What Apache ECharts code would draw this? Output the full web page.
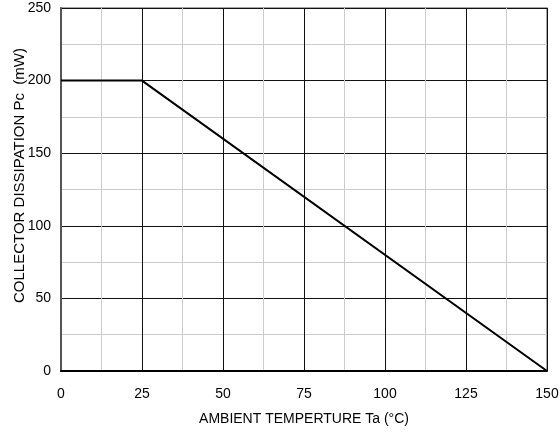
<!DOCTYPE html>
<html><head><meta charset="utf-8">
<script src="https://cdn.jsdelivr.net/npm/echarts@6/dist/echarts.min.js"></script>
<style>html,body{margin:0;padding:0;background:#fff}#c{width:560px;height:432px}</style>
</head><body><div id="c"></div>
<script>
const temps = [0, 25, 150];
const power = [200, 200, 0];
const xTicks = [0, 25, 50, 75, 100, 125, 150];
const yTicks = [0, 50, 100, 150, 200, 250];
const xName = 'AMBIENT TEMPERTURE Ta (\u00B0C)';
const yName = 'COLLECTOR DISSIPATION Pc  (mW)';

const font = 'Liberation Sans, Arial, sans-serif';
const chart = echarts.init(document.getElementById('c'), null, {renderer: 'canvas'});
chart.setOption({
  animation: false,
  backgroundColor: '#fff',
  grid: {left: 61, right: 13, top: 8, bottom: 61, containLabel: false, outerBoundsMode: 'none',
         show: true, borderColor: '#888', borderWidth: 1.5, backgroundColor: 'transparent'},
  xAxis: {
    type: 'value', min: xTicks[0], max: xTicks[xTicks.length - 1], interval: 25,
    name: xName, nameLocation: 'middle', nameGap: 41, nameMoveOverlap: false,
    nameTextStyle: {color: '#000', fontSize: 14, fontFamily: font},
    axisLine: {show: true, lineStyle: {color: '#000', width: 2}},
    axisTick: {show: false},
    axisLabel: {color: '#000', fontSize: 14, fontFamily: font, margin: 16},
    splitLine: {show: true, lineStyle: {color: '#111', width: 1}},
    minorTick: {show: false, splitNumber: 2},
    minorSplitLine: {show: true, lineStyle: {color: '#ccc', width: 1}}
  },
  yAxis: {
    type: 'value', min: yTicks[0], max: yTicks[yTicks.length - 1], interval: 50,
    name: yName, nameLocation: 'middle', nameGap: 34, nameMoveOverlap: false,
    nameTextStyle: {color: '#000', fontSize: 15, fontFamily: font, padding: [0, 0, 0, 28]},
    axisLine: {show: true, lineStyle: {color: '#555', width: 2}},
    axisTick: {show: false},
    axisLabel: {color: '#000', fontSize: 14, fontFamily: font, margin: 10},
    splitLine: {show: true, lineStyle: {color: '#111', width: 1}},
    minorTick: {show: false, splitNumber: 2},
    minorSplitLine: {show: true, lineStyle: {color: '#ccc', width: 1}}
  },
  series: [{
    type: 'line',
    data: temps.map((t, i) => [t, power[i]]),
    showSymbol: false,
    lineStyle: {color: '#000', width: 2},
    z: 5
  }]
});
</script></body></html>
